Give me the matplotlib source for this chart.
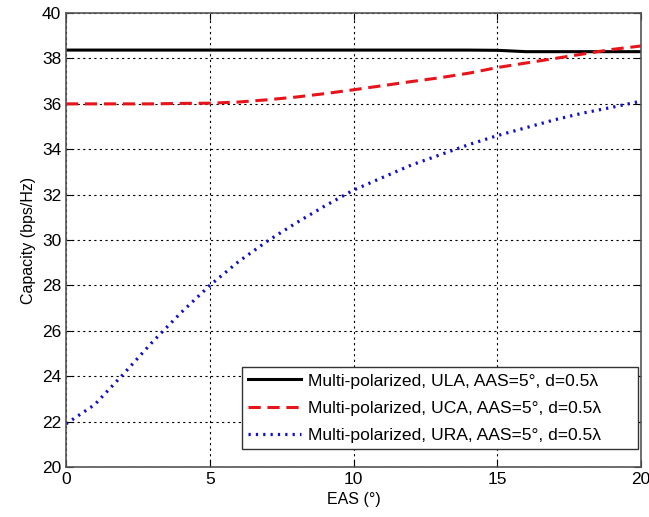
import numpy as np
import matplotlib.pyplot as plt

plt.rcParams['font.family'] = ['Liberation Sans', 'DejaVu Sans']

eas = [0, 1, 2, 3, 4, 5, 6, 7, 8, 9, 10, 11, 12, 13, 14, 15, 16, 17, 18, 19, 20]
ula = [38.37, 38.37, 38.37, 38.37, 38.37, 38.37, 38.37, 38.37, 38.37, 38.37, 38.37,
       38.37, 38.37, 38.37, 38.37, 38.36, 38.3, 38.3, 38.3, 38.3, 38.3]
uca = [36.0, 36.0, 36.0, 36.0, 36.02, 36.03, 36.08, 36.18, 36.3, 36.45, 36.62,
       36.8, 36.98, 37.15, 37.35, 37.6, 37.8, 38.0, 38.2, 38.4, 38.55]
ura = [21.9, 22.75, 24.1, 25.5, 26.8, 28.0, 29.05, 29.95, 30.75, 31.5, 32.2,
       32.75, 33.3, 33.75, 34.2, 34.6, 34.95, 35.3, 35.6, 35.85, 36.12]

labels = ['Multi-polarized, ULA, AAS=5°, d=0.5λ',
          'Multi-polarized, UCA, AAS=5°, d=0.5λ',
          'Multi-polarized, URA, AAS=5°, d=0.5λ']

fig = plt.figure(figsize=(6.49, 5.17), dpi=100)
ax = fig.add_axes([0.1017, 0.0967, 0.886, 0.878])

ax.plot(eas, ula, color='black', lw=2.2, label=labels[0])
ax.plot(eas, uca, color='#e8141c', lw=2.2, ls=(0, (4, 2.2)), label=labels[1])
ax.plot(eas, ura, color='#1010c8', lw=2.3, ls=(0, (0.7, 1.6)), label=labels[2])

ax.set_xlim(0, 20)
ax.set_ylim(20, 40)
ax.set_xticks([0, 5, 10, 15, 20])
ax.set_yticks(np.arange(20, 41, 2))
ax.grid(True, color='black', ls=(0, (2, 3)), lw=0.8)
ax.tick_params(direction='in', top=True, right=True, labelsize=12.5, length=5)
for s in ax.spines.values():
    s.set_color('#555555')
    s.set_linewidth(1.2)

ax.set_xlabel('EAS (°)', fontsize=11.5)
ax.set_ylabel('Capacity (bps/Hz)', fontsize=11.5)

leg = ax.legend(loc='lower left', bbox_to_anchor=(0.306, 0.0396, 0.689, 0.18),
                mode='expand', fontsize=12.6, fancybox=False, framealpha=1,
                edgecolor='#333333', handlelength=3.0, borderaxespad=0,
                borderpad=0.35, labelspacing=0.68, handletextpad=0.45)
leg.get_frame().set_linewidth(1.0)

fig.savefig('out.png', dpi=100)
